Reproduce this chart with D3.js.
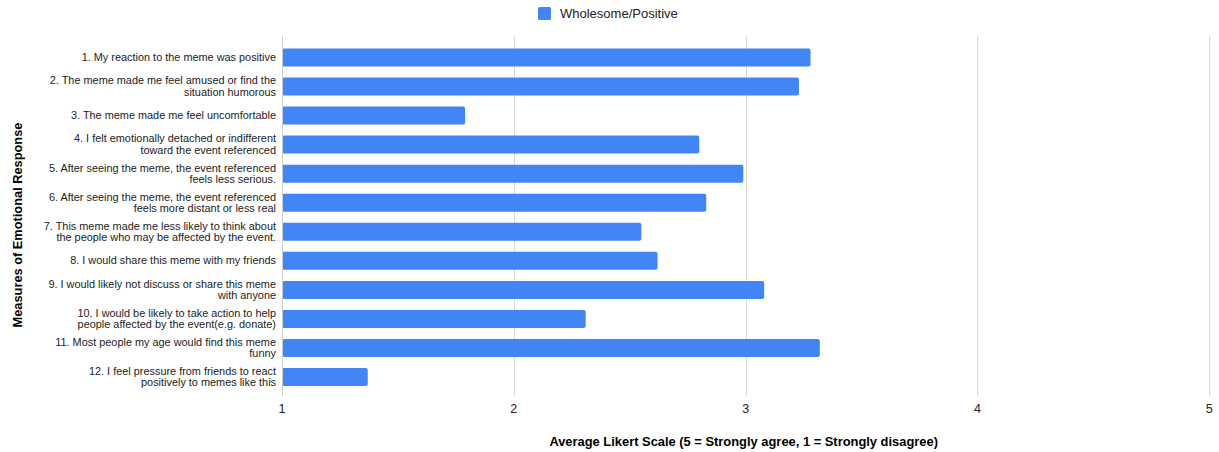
<!DOCTYPE html>
<html>
<head>
<meta charset="utf-8">
<script src="https://cdn.jsdelivr.net/npm/d3@7"></script>
<style>
  html, body { margin: 0; padding: 0; background: #fff; }
  svg { display: block; font-family: Arial, "Liberation Sans", sans-serif; }
</style>
</head>
<body>
<svg id="chart" width="1219" height="452"></svg>
<script>
const categories = [
  ["1. My reaction to the meme was positive"],
  ["2. The meme made me feel amused or find the", "situation humorous"],
  ["3. The meme made me feel uncomfortable"],
  ["4. I felt emotionally detached or indifferent", "toward the event referenced"],
  ["5. After seeing the meme, the event referenced", "feels less serious."],
  ["6. After seeing the meme, the event referenced", "feels more distant or less real"],
  ["7. This meme made me less likely to think about", "the people who may be affected by the event."],
  ["8. I would share this meme with my friends"],
  ["9. I would likely not discuss or share this meme", "with anyone"],
  ["10. I would be likely to take action to help", "people affected by the event(e.g. donate)"],
  ["11. Most people my age would find this meme", "funny"],
  ["12. I feel pressure from friends to react", "positively to memes like this"]
];
const values = [3.28, 3.23, 1.79, 2.80, 2.99, 2.83, 2.55, 2.62, 3.08, 2.31, 3.32, 1.37];
const seriesName = "Wholesome/Positive";
const xTicks = [1, 2, 3, 4, 5];
const xTitle = "Average Likert Scale (5 = Strongly agree, 1 = Strongly disagree)";
const yTitle = "Measures of Emotional Response";

(function () {
const svg = d3.select("#chart");
const pLeft = 282, pRight = 1209.3, pTop = 36, pBottom = 396;

const x = d3.scaleLinear().domain([1, 5]).range([pLeft, pRight]);
const y = d3.scaleBand().domain(d3.range(categories.length))
  .range([36.5, 398]).paddingInner(0.38).paddingOuter(0.41);

// gridlines
svg.append("g").selectAll("line").data(xTicks).join("line")
  .attr("x1", d => Math.round(x(d)) + 0.5).attr("x2", d => Math.round(x(d)) + 0.5)
  .attr("y1", pTop).attr("y2", pBottom)
  .attr("stroke", "#d9d9d9").attr("stroke-width", 1);

// bars
svg.append("g").selectAll("rect").data(values).join("rect")
  .attr("x", x(1))
  .attr("y", (d, i) => y(i))
  .attr("width", d => x(d) - x(1))
  .attr("height", y.bandwidth())
  .attr("rx", 2).attr("ry", 2)
  .attr("fill", "#4285f4");

// baseline axis line
svg.append("line")
  .attr("x1", Math.round(x(1)) + 0.5).attr("x2", Math.round(x(1)) + 0.5)
  .attr("y1", pTop).attr("y2", pBottom)
  .attr("stroke", "#cccccc");

// x tick labels
svg.append("g").selectAll("text").data(xTicks).join("text")
  .attr("x", d => x(d)).attr("y", 413)
  .attr("text-anchor", "middle")
  .attr("font-size", 12.5).attr("fill", "#222")
  .text(d => d3.format("d")(d));

// y category labels
const lab = svg.append("g").selectAll("text").data(categories).join("text")
  .attr("text-anchor", "end")
  .attr("font-size", 10.9).attr("fill", "#222");
lab.each(function(lines, i) {
  const cy = y(i) + y.bandwidth() / 2;
  const lh = 11.3;
  const t = d3.select(this);
  lines.forEach((ln, k) => {
    t.append("tspan")
      .attr("x", 276)
      .attr("y", cy + 3.5 + (k - (lines.length - 1) / 2) * lh)
      .text(ln);
  });
});

// x axis title
svg.append("text")
  .attr("x", (pLeft + pRight) / 2 - 2).attr("y", 446)
  .attr("text-anchor", "middle")
  .attr("font-size", 12.9).attr("font-weight", "bold").attr("fill", "#000")
  .text(xTitle);

// y axis title
svg.append("text")
  .attr("transform", `translate(21.5, ${(pTop + pBottom) / 2 + 9}) rotate(-90)`)
  .attr("text-anchor", "middle")
  .attr("font-size", 12.8).attr("font-weight", "bold").attr("fill", "#000")
  .text(yTitle);

// legend
const lg = svg.append("g");
lg.append("rect").attr("x", 538).attr("y", 7).attr("width", 13).attr("height", 13)
  .attr("rx", 1.5).attr("fill", "#4285f4");
lg.append("text").attr("x", 560).attr("y", 18)
  .attr("font-size", 13).attr("fill", "#222")
  .text(seriesName);
})();
</script>
</body>
</html>
